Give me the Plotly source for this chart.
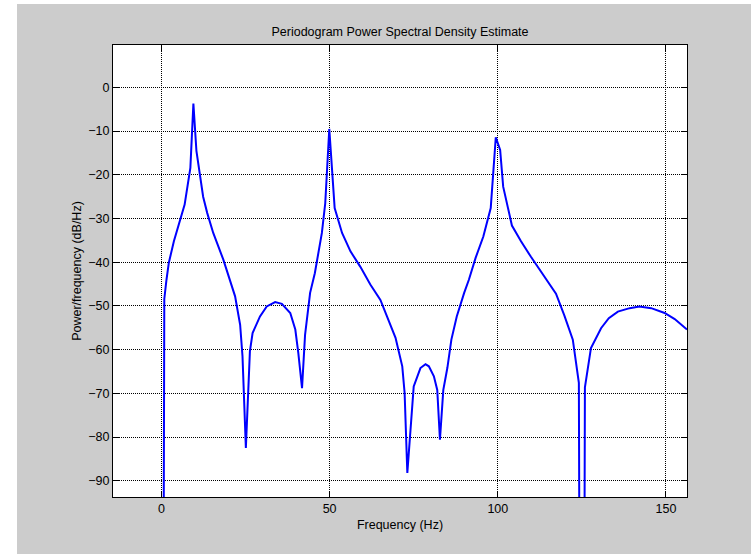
import plotly.graph_objects as go

# Data (frequency in Hz, PSD in dB/Hz)
freq_hz = [0.0, 0.85, 1.5, 2.2, 3.7, 6.9, 8.6, 9.5, 10.4, 12.4, 13.6, 15.4, 18.4,
           20.4, 21.9, 23.4, 24.1, 25.1, 26.3, 27.1, 29.3, 31.3, 33.8, 35.8, 38.3,
           39.8, 40.7, 41.8, 42.7, 44.2, 45.6, 47.7, 48.7, 49.9, 51.5, 53.7, 56.2,
           59.1, 62.1, 65.1, 67.1, 69.6, 71.6, 72.3, 73.1, 75.0, 77.0, 78.5, 79.5,
           81.0, 82.0, 82.8, 83.8, 85.0, 86.2, 87.8, 90.0, 91.4, 93.4, 95.7, 97.9,
           99.4, 100.7, 101.6, 104.2, 106.9, 109.8, 112.8, 115.0, 117.3, 119.8,
           122.3, 124.1, 125.05, 125.9, 127.7, 130.7, 133.0, 135.7, 139.2, 142.1,
           145.6, 149.6, 152.6, 156.25]
psd_db = [-300.0, -48.4, -44.0, -40.1, -35.2, -26.8, -18.4, -3.7, -14.5, -25.0,
          -28.7, -33.3, -39.4, -44.0, -47.8, -54.3, -61.5, -82.5, -60.4, -56.2,
          -52.4, -50.1, -49.1, -49.5, -51.6, -55.4, -60.8, -68.8, -56.6, -47.0,
          -42.5, -33.3, -26.5, -9.5, -27.6, -33.3, -37.5, -41.0, -45.1, -48.6,
          -52.4, -57.3, -63.8, -69.9, -88.2, -68.4, -64.2, -63.3, -63.8, -66.1,
          -69.2, -80.6, -69.2, -64.2, -57.7, -52.4, -47.0, -44.0, -39.0, -34.1,
          -27.6, -11.4, -14.3, -22.7, -31.6, -35.2, -38.7, -42.0, -44.5, -47.2,
          -52.2, -57.7, -67.6, -300.0, -68.6, -59.6, -55.1, -52.8, -51.3, -50.5,
          -50.1, -50.5, -51.6, -53.0, -55.4]

x_ticks = [0, 50, 100, 150]
y_ticks = [-90, -80, -70, -60, -50, -40, -30, -20, -10, 0]

W, H = 755, 554
L, R, T, B = 113, 687, 45, 497  # plot area in pixels

def px(x):
    return (x - L) / (R - L)

def py(y):
    return (B - y) / (B - T)

fig = go.Figure()
fig.add_trace(go.Scatter(x=freq_hz, y=psd_db, mode="lines",
                         line=dict(color="#0000ff", width=2),
                         showlegend=False, hoverinfo="skip"))

font = "Liberation Sans, Arial, Helvetica, sans-serif"
FS = 12.5
axis_common = dict(
    showline=True, linecolor="black", linewidth=1, mirror="ticks",
    ticks="inside", ticklen=6, tickcolor="black", tickwidth=1,
    showgrid=True, gridcolor="black", gridwidth=1, griddash="1px,1px",
    zeroline=False, tickfont=dict(family=font, size=FS, color="black"),
)

fig.update_layout(
    width=W, height=H,
    margin=dict(l=L, r=W - R, t=T, b=H - B, pad=0),
    paper_bgcolor="#cccccc", plot_bgcolor="white",
    title=dict(text="Periodogram Power Spectral Density Estimate",
               font=dict(family=font, size=FS, color="black"),
               x=0.5, xref="paper", xanchor="center",
               y=1 - 32 / H, yref="container", yanchor="middle"),
    xaxis=dict(range=[-14.4, 156.25], tickvals=x_ticks,
               title=dict(text="Frequency (Hz)", standoff=5,
                          font=dict(family=font, size=FS, color="black")),
               **axis_common),
    yaxis=dict(range=[-93.7, 9.7], tickvals=y_ticks,
               title=dict(text="Power/frequency (dB/Hz)", standoff=3,
                          font=dict(family=font, size=FS, color="black")),
               **axis_common),
    shapes=[
        # white strips around the gray figure area
        dict(type="rect", xref="paper", yref="paper", layer="below",
             x0=px(0), x1=px(17), y0=py(H), y1=py(0),
             fillcolor="white", line=dict(width=0)),
        dict(type="rect", xref="paper", yref="paper", layer="below",
             x0=px(0), x1=px(W), y0=py(4), y1=py(0),
             fillcolor="white", line=dict(width=0)),
        dict(type="rect", xref="paper", yref="paper", layer="below",
             x0=px(751), x1=px(W), y0=py(H), y1=py(0),
             fillcolor="white", line=dict(width=0)),
    ],
)

fig.write_html("out.html")
